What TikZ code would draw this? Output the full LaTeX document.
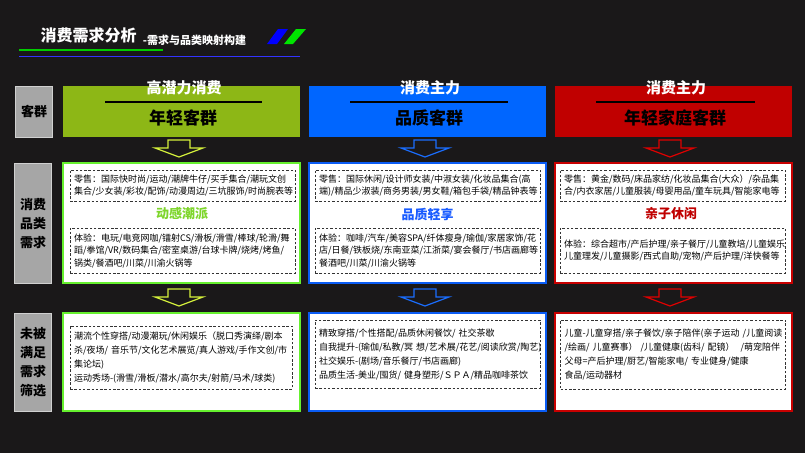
\documentclass[tikz,border=0pt]{standalone}
\usepackage{fontspec}
\setmainfont{Noto Sans CJK SC}
\usetikzlibrary{positioning}
\definecolor{Ink}{HTML}{1A1819}
\definecolor{SideGray}{HTML}{A6A6A6}
\definecolor{SideEdge}{HTML}{D0D0D0}
\definecolor{HeadGreen}{HTML}{8DB716}
\definecolor{HeadBlue}{HTML}{0066FF}
\definecolor{HeadRed}{HTML}{C00000}
\definecolor{PanGreen}{HTML}{66F02E}
\definecolor{PanBlue}{HTML}{0A5CF5}
\definecolor{PanRed}{HTML}{C80000}
\definecolor{ArrGreen}{HTML}{D6F23C}
\definecolor{ArrBlue}{HTML}{1A6EFF}
\definecolor{ArrRed}{HTML}{E00000}
\definecolor{TagGreen}{HTML}{7ED62B}
\definecolor{TagBlue}{HTML}{1A5CFF}
\definecolor{TagRed}{HTML}{C00000}
\definecolor{DashGray}{HTML}{333333}

\begin{document}
\begin{tikzpicture}[x=1pt,y=-1pt,
  side/.style={draw=SideEdge,fill=SideGray,line width=0.6pt,minimum width=37pt,inner sep=0pt,align=center,font=\fontsize{13}{19}\selectfont\bfseries},
  head/.style={minimum width=237pt,minimum height=51pt,inner sep=0pt},
  headtop/.style={text=white,font=\fontsize{15}{15}\selectfont\bfseries,inner sep=0pt},
  headsub/.style={text=black,font=\fontsize{17}{17}\selectfont\bfseries,inner sep=0pt},
  hrule/.style={draw=black,line width=1.3pt},
  panel/.style={fill=white,line width=2pt,minimum width=237pt,inner sep=0pt},
  dbox/.style={draw=DashGray,dash pattern=on 2.5pt off 1.8pt,line width=0.8pt,text width=217pt,inner sep=4pt,align=left,font=\fontsize{9}{12.5}\selectfont},
  bbox/.style={dbox,font=\fontsize{9}{14}\selectfont},
  tag/.style={font=\fontsize{13}{13}\selectfont\bfseries,inner sep=0pt},
  downarr/.style={line width=1.2pt,line join=miter}
]
\path[use as bounding box,fill=Ink] (0,0) rectangle (805,453);

% title
\node[text=white,font=\fontsize{16}{16}\selectfont\bfseries,inner sep=0pt] (ttl) at (88.5,35) {消费需求分析};
\node[text=white,font=\fontsize{11}{11}\selectfont\bfseries,inner sep=0pt,anchor=base west] (subttl) at ([xshift=6pt,yshift=-3pt]ttl.base east) {-需求与品类映射构建};
\draw[draw=green!80!black,line width=1.5pt] (19,50) -- (163,50);
\draw[draw=blue!80!white,line width=1pt] (19,56) -- (300,56);
\fill[blue] (267,44) -- (278,29) -- (288,29) -- (277,44) -- cycle;
\fill[green!90!black] (284,44) -- (296,29) -- (306,29) -- (293,44) -- cycle;

% headers
\node[head,fill=HeadGreen] (hdrA) at (181.5,111.5) {};
\node[head,fill=HeadBlue] (hdrB) at (427.5,111.5) {};
\node[head,fill=HeadRed] (hdrC) at (673.5,111.5) {};
\node[headtop] (topA) at (184,88) {高潜力消费};
\node[headtop] (topB) at (430,88) {消费主力};
\node[headtop] (topC) at (676,88) {消费主力};
\draw[hrule] (105,102) -- (262,102);
\draw[hrule] (350,102) -- (508,102);
\draw[hrule] (596,102) -- (755,102);
\node[headsub] (subA) at (183,118) {年轻客群};
\node[headsub] (subB) at (429,118) {品质客群};
\node[headsub] (subC) at (675,118) {年轻家庭客群};

% panels
\node[panel,draw=PanGreen,minimum height=120pt,below=25pt of hdrA] (midA) {};
\node[panel,draw=PanBlue,minimum height=120pt,below=25pt of hdrB] (midB) {};
\node[panel,draw=PanRed,minimum height=120pt,below=25pt of hdrC] (midC) {};
\node[panel,draw=PanGreen,minimum height=98pt,below=28pt of midA] (botA) {};
\node[panel,draw=PanBlue,minimum height=98pt,below=28pt of midB] (botB) {};
\node[panel,draw=PanRed,minimum height=98pt,below=28pt of midC] (botC) {};

% side labels
\node[side,minimum height=51pt,left=10pt of hdrA] (sideA) {客群};
\node[side,minimum height=120pt,left=10pt of midA] (sideB) {消费\\品类\\需求};
\node[side,minimum height=98pt,left=10pt of botA] (sideC) {未被\\满足\\需求\\筛选};

% arrows
\foreach \cx/\col in {179/ArrGreen,425/ArrBlue,670/ArrRed} {
  \foreach \t in {140,289} {
    \draw[downarr,draw=\col] (\cx-11,\t) -- (\cx+11,\t) -- (\cx+11,\t+8) -- (\cx+24,\t+8)
      -- (\cx,\t+17) -- (\cx-24,\t+8) -- (\cx-11,\t+8) -- cycle;
  }
}

% consumption needs
\node[dbox,minimum height=31pt] (sellA) at (182.5,185.5) {零售：国际快时尚/运动/潮牌牛仔/买手集合/潮玩文创\\集合/少女装/彩妆/配饰/动漫周边/三坑服饰/时尚腕表等};
\node[tag,text=TagGreen] (tagA) at (182,214) {动感潮派};
\node[dbox,minimum height=45pt] (playA) at (182.5,250.5) {体验：电玩/电竞网咖/镭射CS/滑板/滑雪/棒球/轮滑/舞\\蹈/拳馆/VR/数码集合/密室桌游/台球卡牌/烧烤/烤鱼/\\锅类/餐酒吧/川菜/川渝火锅等};

\node[dbox,minimum height=31pt] (sellB) at (427.5,185.5) {零售：国际休闲/设计师女装/中淑女装/化妆品集合(高\\端)/精品少淑装/商务男装/男女鞋/箱包手袋/精品钟表等};
\node[tag,text=TagBlue] (tagB) at (427.5,214) {品质轻享};
\node[dbox,minimum height=45pt] (playB) at (427.5,250.5) {体验：咖啡/汽车/美容SPA/纤体瘦身/瑜伽/家居家饰/花\\店/日餐/铁板烧/东南亚菜/江浙菜/宴会餐厅/书店画廊等\\餐酒吧/川菜/川渝火锅等};

\node[dbox,minimum height=31pt] (sellC) at (672.5,185.5) {零售：黄金/数码/床品家纺/化妆品集合(大众）/杂品集\\合/内衣家居/儿童服装/母婴用品/童车玩具/智能家电等};
\node[tag,text=TagRed] (tagC) at (671,214) {亲子休闲};
\node[dbox,minimum height=45pt] (playC) at (672.5,250.5) {体验：综合超市/产后护理/亲子餐厅/儿童教培/儿童娱乐\\儿童理发/儿童摄影/西式自助/宠物/产后护理/洋快餐等};

% unmet needs
\node[bbox,text width=214pt,minimum height=63pt] (gapA) at (181,357.5) {\mbox{潮流个性穿搭/动漫潮玩/休闲娱乐（脱口秀演绎/剧本}\\\mbox{杀/夜场/ 音乐节/文化艺术展览/真人游戏/手作文创/市}\\集论坛)\\\mbox{运动秀场-(滑雪/滑板/潜水/高尔夫/射箭/马术/球类)}};
\node[bbox,minimum height=68pt] (gapB) at (427.5,354) {\mbox{精致穿搭/个性搭配/品质休闲餐饮/ 社交茶歇}\\\mbox{自我提升-(瑜伽/私教/冥 想/艺术展/花艺/阅读欣赏/陶艺)}\\\mbox{社交娱乐-(剧场/音乐餐厅/书店画廊)}\\\mbox{品质生活-美业/囤货/ 健身塑形/ＳＰＡ/精品咖啡茶饮}};
\node[bbox,minimum height=69pt] (gapC) at (673,354.5) {\mbox{儿童-儿童穿搭/亲子餐饮/亲子陪伴(亲子运动 /儿童阅读}\\\mbox{/绘画/ 儿童赛事） /儿童健康(齿科/ 配镜）\ \ /萌宠陪伴}\\\mbox{父母=产后护理/厨艺/智能家电/ 专业健身/健康}\\食品/运动器材};
\end{tikzpicture}
\end{document}
